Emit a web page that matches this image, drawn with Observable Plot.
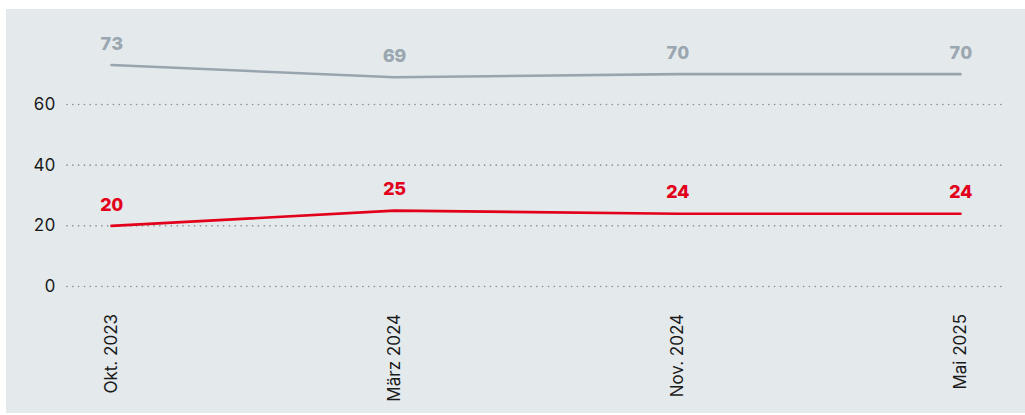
<!DOCTYPE html>
<html>
<head>
<meta charset="utf-8">
<script src="https://cdn.jsdelivr.net/npm/d3@7"></script>
<script src="https://cdn.jsdelivr.net/npm/@observablehq/plot@0.6"></script>
<style>
  html, body { margin: 0; padding: 0; background: #ffffff; }
  #wrap { position: absolute; left: 6px; top: 9px; width: 1019px; height: 404px; background: #e4e9ec; }
  #wrap svg { display: block; }
</style>
</head>
<body>
<div id="wrap"></div>
<script>
const periods = ["Okt. 2023", "März 2024", "Nov. 2024", "Mai 2025"];
const greyValues = [73, 69, 70, 70];
const redValues = [20, 25, 24, 24];
const yTicks = [0, 20, 40, 60];

const grey = periods.map((p, i) => ({period: p, value: greyValues[i]}));
const red = periods.map((p, i) => ({period: p, value: redValues[i]}));

const chart = Plot.plot({
  width: 1019,
  height: 404,
  marginLeft: 61,
  marginRight: 20,
  marginTop: 20,
  marginBottom: 127,
  style: {background: "transparent", fontFamily: "Inter, sans-serif", fontSize: "16px", color: "#222"},
  x: {type: "point", domain: periods, range: [104, 955], padding: 0, label: null},
  y: {domain: [0, 60], range: [277, 95], label: null},
  marks: [
    Plot.ruleY(yTicks, {stroke: "#87919a", strokeWidth: 1.6, strokeDasharray: "0.1,5.7", strokeLinecap: "round", strokeOpacity: 1}),
    Plot.axisY({ticks: yTicks, tickSize: 0, tickPadding: 12, fontSize: 17, fill: "#1a1a1a", label: null}),
    Plot.axisX({tickRotate: -90, tickSize: 0, tickPadding: 22, fontSize: 17, fill: "#1a1a1a", label: null, dy: 5.5, ariaLabel: "x-axis tick label"}),
    Plot.line(grey, {x: "period", y: "value", stroke: "#98a5ae", strokeWidth: 2.6}),
    Plot.line(red, {x: "period", y: "value", stroke: "#e2001a", strokeWidth: 2.6}),
    Plot.text(grey, {x: "period", y: "value", text: "value", dy: -21, fill: "#9aa7b0", fontSize: 18, fontWeight: 800}),
    Plot.text(red, {x: "period", y: "value", text: "value", dy: -21, fill: "#e2001a", fontSize: 18, fontWeight: 800})
  ]
});
// condensed look of the rotated period labels
chart.querySelectorAll('g[aria-label="x-axis tick label"] text').forEach(t => {
  const tr = t.getAttribute("transform") || "";
  t.setAttribute("transform", tr + " scale(1.05,1.37)");
});
document.getElementById("wrap").appendChild(chart);
</script>
</body>
</html>
